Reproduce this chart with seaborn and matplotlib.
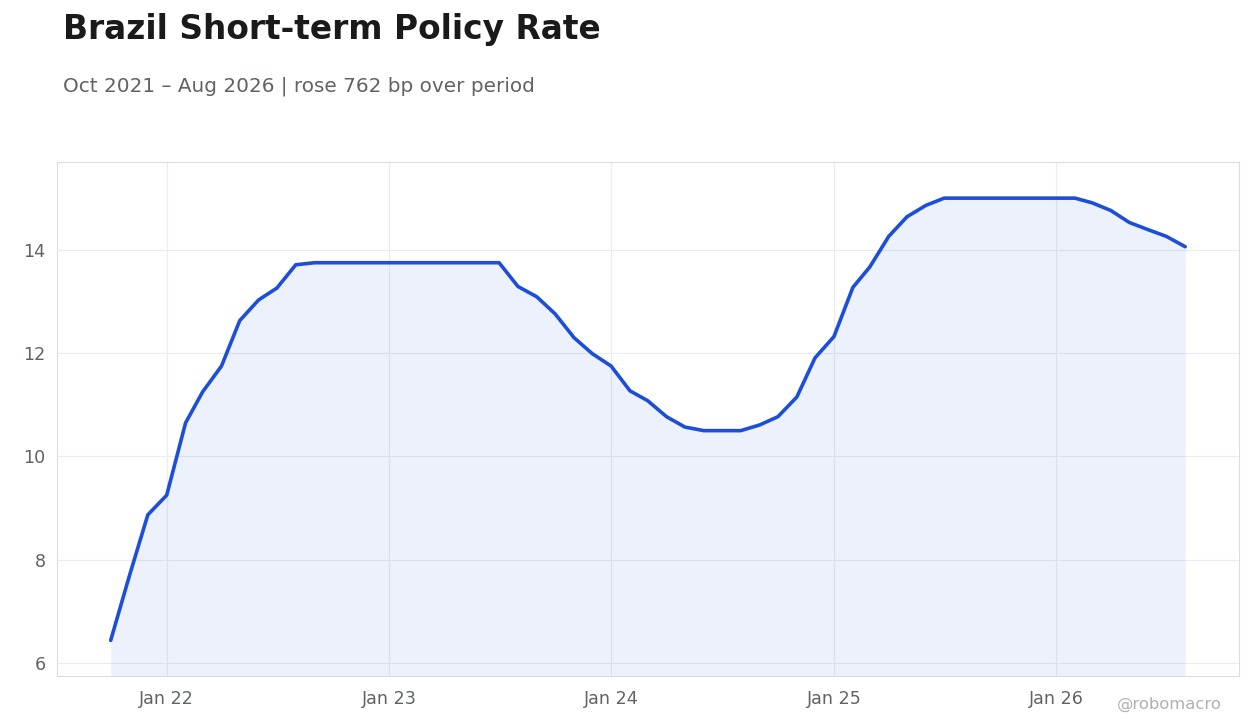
"""Brazil short-term policy rate, monthly."""

import matplotlib.dates as mdates
import matplotlib.pyplot as plt
import pandas as pd
import seaborn as sns

start_month = "2021-10-01"
rates = [
    6.44, 7.70, 8.87, 9.25, 10.65, 11.25, 11.75, 12.63, 13.03, 13.26,
    13.71, 13.75, 13.75, 13.75, 13.75, 13.75, 13.75, 13.75, 13.75, 13.75,
    13.75, 13.75, 13.29, 13.09, 12.76, 12.30, 11.99, 11.75, 11.27, 11.08,
    10.77, 10.57, 10.50, 10.50, 10.50, 10.61, 10.77, 11.15, 11.91, 12.32,
    13.27, 13.67, 14.26, 14.64, 14.86, 15.00, 15.00, 15.00, 15.00, 15.00,
    15.00, 15.00, 15.00, 14.91, 14.76, 14.53, 14.39, 14.26, 14.06,
]

df = pd.DataFrame({
    "date": pd.date_range(start_month, periods=len(rates), freq="MS"),
    "rate": rates,
})

LINE = "#1d4ed8"
GRID = "#ececec"
TEXT = "#5f6368"
FONT = "DejaVu Sans"

sns.set_style("white")
plt.rcParams["font.family"] = [FONT]

fig = plt.figure(figsize=(12.6, 7.28), dpi=100)
ax = fig.add_axes([0.0452, 0.0714, 0.9381, 0.7061])

sns.lineplot(data=df, x="date", y="rate", color=LINE, linewidth=2.6, ax=ax)
ax.fill_between(df["date"], df["rate"], 5.75, color=LINE, alpha=0.08, linewidth=0)

ax.set_ylim(5.75, 15.7)
ax.margins(x=0.05)
ax.set_yticks([6, 8, 10, 12, 14])
ax.xaxis.set_major_locator(mdates.YearLocator(month=1))
ax.xaxis.set_major_formatter(mdates.DateFormatter("%b %y"))
ax.grid(True, color=GRID, linewidth=0.8)
ax.set_xlabel("")
ax.set_ylabel("")
ax.tick_params(colors=TEXT, labelsize=12.6, length=0)
ax.tick_params(axis="x", pad=10)
ax.tick_params(axis="y", pad=8)
for spine in ax.spines.values():
    spine.set_color("#dddddd")
    spine.set_linewidth(0.8)

fig.text(0.05, 0.96, "Brazil Short-term Policy Rate", fontsize=23.7,
         fontweight="bold", color="#1a1a1a", va="center")
fig.text(0.05, 0.882, "Oct 2021 – Aug 2026 | rose 762 bp over period",
         fontsize=14.4, color=TEXT, va="center")
fig.text(0.97, 0.032, "@robomacro", fontsize=11.8, color="#b0b0b0",
         ha="right", va="center")

fig.savefig("out.png", dpi=100)
